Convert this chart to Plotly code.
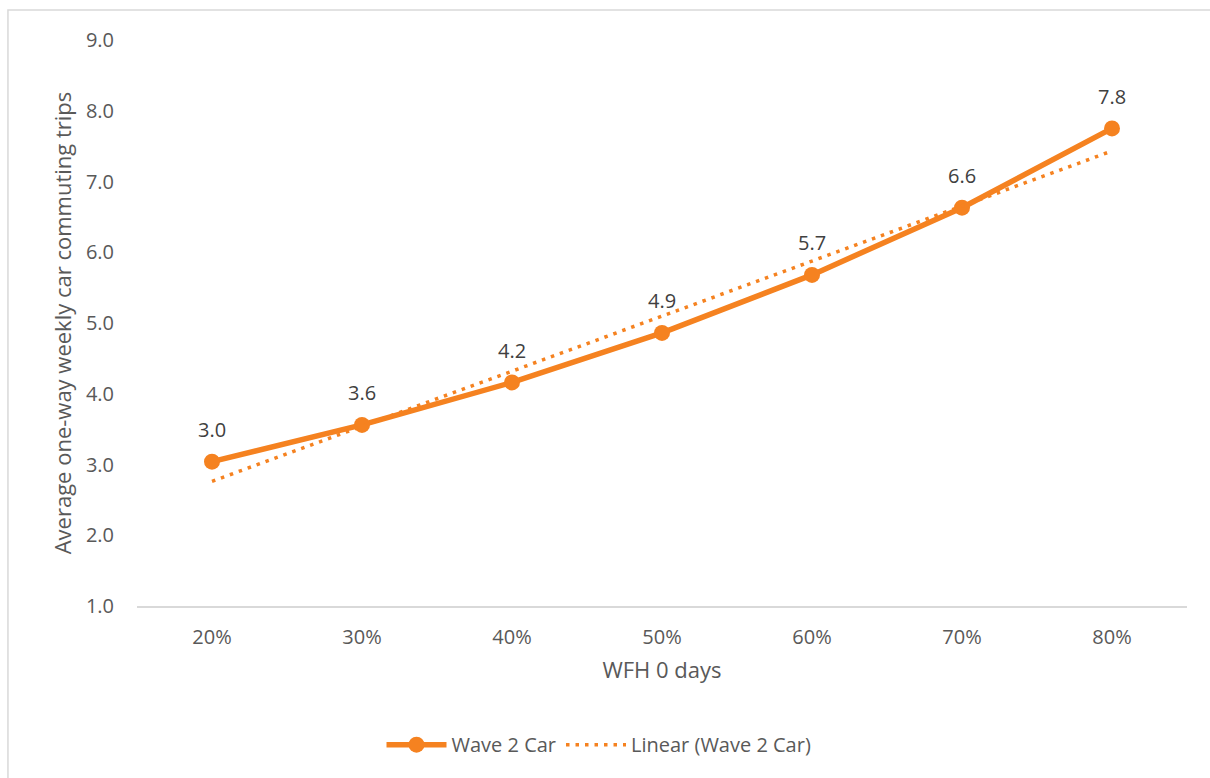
import numpy as np
import plotly.graph_objects as go

# WFH share categories and average one-way weekly car commuting trips
categories = ["20%", "30%", "40%", "50%", "60%", "70%", "80%"]
car_trips = [3.04, 3.56, 4.16, 4.86, 5.68, 6.63, 7.75]
y_ticks = [1.0, 2.0, 3.0, 4.0, 5.0, 6.0, 7.0, 8.0, 9.0]

ORANGE = "#F58220"
TEXT = "#595959"
FONT = "Open Sans"

# Linear trend fitted over category index
idx = np.arange(len(categories))
slope, intercept = np.polyfit(idx, car_trips, 1)
trend = slope * idx + intercept

fig = go.Figure()
fig.add_trace(go.Scatter(
    x=categories, y=car_trips, mode="lines+markers", name="Wave 2 Car",
    line=dict(color=ORANGE, width=5.5), marker=dict(color=ORANGE, size=16),
))
fig.add_trace(go.Scatter(
    x=categories, y=trend, mode="lines", name="Linear (Wave 2 Car)",
    line=dict(color=ORANGE, width=3.5, dash="3.5px,6px"),
))

# Value labels above each point
for c, v in zip(categories, car_trips):
    fig.add_annotation(x=c, y=v, text=f"{v:.1f}", showarrow=False, yshift=32,
                       font=dict(family=FONT, size=20, color="#404040"))

# Light chart border
fig.add_shape(type="rect", xref="paper", yref="paper",
              x0=-0.1229, x1=1.03, y0=-0.31, y1=1.053,
              line=dict(color="#D9D9D9", width=1.5), fillcolor="rgba(0,0,0,0)", layer="below")

fig.update_layout(
    width=1210, height=778,
    margin=dict(l=137, r=23, t=40, b=172),
    paper_bgcolor="white", plot_bgcolor="white",
    font=dict(family=FONT, size=20, color=TEXT),
    showlegend=True,
    legend=dict(orientation="h", x=0.44, xanchor="center", y=-0.245, yanchor="middle",
                font=dict(family=FONT, size=20, color=TEXT), itemwidth=60,
                traceorder="normal"),
    xaxis=dict(
        type="category", range=[-0.5, 6.5], showgrid=False, zeroline=False,
        showline=True, linecolor="#D9D9D9", linewidth=1.5, ticks="",
        tickfont=dict(size=20, color=TEXT), ticklabelstandoff=12,
        title=dict(text="WFH 0 days", font=dict(size=22, color=TEXT), standoff=14),
    ),
    yaxis=dict(
        range=[1, 9], tickvals=y_ticks, tickformat=".1f", showgrid=False,
        zeroline=False, showline=False, ticks="",
        tickfont=dict(size=20, color=TEXT), ticklabelstandoff=22,
        title=dict(text="Average one-way weekly car commuting trips",
                   font=dict(size=22, color=TEXT), standoff=8),
    ),
)

fig.write_html("out.html")
